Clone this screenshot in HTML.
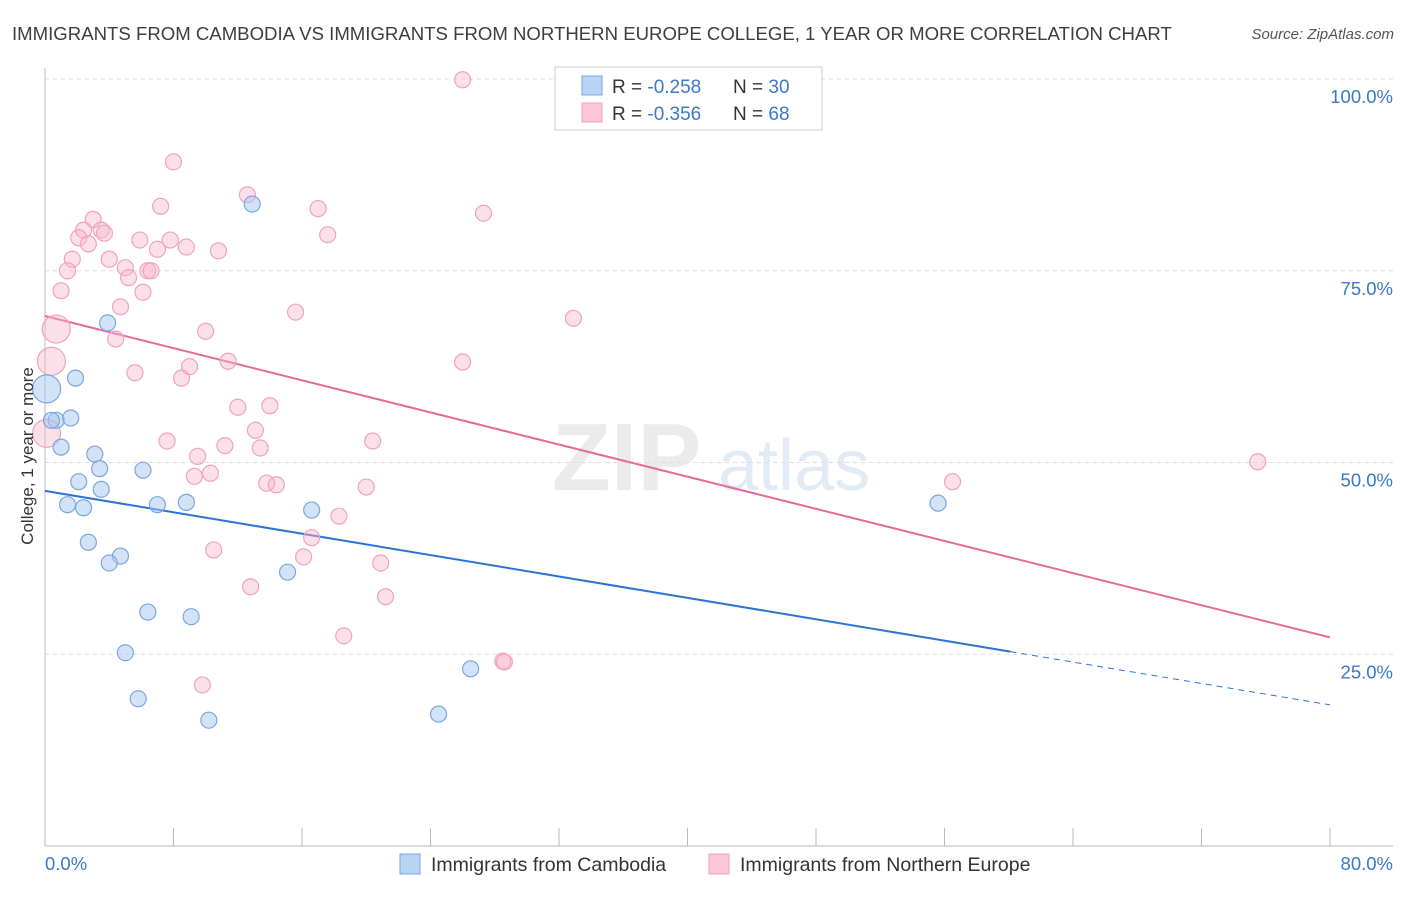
<!DOCTYPE html>
<html><head><meta charset="utf-8"><style>
body{margin:0;background:#fff;font-family:"Liberation Sans",sans-serif}
svg text{font-family:"Liberation Sans",sans-serif}
</style></head><body>
<svg id="chart" width="1406" height="892" xmlns="http://www.w3.org/2000/svg">
<text x="12" y="40" font-size="18.6" fill="#3e3e3e">IMMIGRANTS FROM CAMBODIA VS IMMIGRANTS FROM NORTHERN EUROPE COLLEGE, 1 YEAR OR MORE CORRELATION CHART</text>
<text x="1394" y="39" font-size="15" fill="#555" font-style="italic" text-anchor="end">Source: ZipAtlas.com</text>
<g opacity="0.5">
<text x="552" y="490" font-size="96" fill="#d8d8d8" font-family="Liberation Serif" font-weight="bold">ZIP</text>
<text x="718" y="490" font-size="72" fill="#c5d8ee">atlas</text>
</g>
<g id="grid"></g>
<g id="axes"></g>
<g id="lines"></g>
<g id="points"></g>
<text transform="translate(33,456) rotate(-90)" font-size="17" fill="#333" text-anchor="middle">College, 1 year or more</text>
<g>
<rect x="555" y="67" width="267" height="63" fill="#fff" stroke="#ccc"/>
<rect x="582" y="76" width="20" height="19" fill="#b8d4f5" stroke="#7aa7e0"/>
<text x="612" y="93" font-size="19" fill="#333">R = <tspan fill="#3a78c8">-0.258</tspan></text>
<text x="733" y="93" font-size="19" fill="#333">N = <tspan fill="#3a78c8">30</tspan></text>
<rect x="582" y="103" width="20" height="19" fill="#fcc8d8" stroke="#f0a0bb"/>
<text x="612" y="120" font-size="19" fill="#333">R = <tspan fill="#3a78c8">-0.356</tspan></text>
<text x="733" y="120" font-size="19" fill="#333">N = <tspan fill="#3a78c8">68</tspan></text>
</g>
<g>
<rect x="400" y="854" width="20" height="20" fill="#b8d4f5" stroke="#7aa7e0"/>
<text x="431" y="871" font-size="19.5" fill="#333">Immigrants from Cambodia</text>
<rect x="709" y="854" width="20" height="20" fill="#fcc8d8" stroke="#f0a0bb"/>
<text x="740" y="871" font-size="19.5" fill="#333">Immigrants from Northern Europe</text>
</g>
</svg>
<script>
const blueX=[0.1,0.7,0.4,1.6,1.9,1.0,3.9,12.9,3.1,3.4,2.1,3.5,1.4,2.4,6.1,7.0,8.8,2.7,4.7,4.0,16.6,15.1,6.4,9.1,5.0,5.8,10.2,24.5,26.5,55.6];
const blueY=[59.6,55.5,55.5,55.8,61.0,52.0,68.2,83.7,51.1,49.2,47.5,46.5,44.5,44.1,49.0,44.5,44.8,39.6,37.8,36.9,43.8,35.7,30.5,29.9,25.2,19.2,16.4,17.2,23.1,44.7];
const blueR=[14,8,8,8,8,8,8,8,8,8,8,8,8,8,8,8,8,8,8,8,8,8,8,8,8,8,8,8,8,8];
const pinkX=[26.0,8.0,12.6,7.2,17.0,27.3,3.0,2.4,3.5,3.7,2.1,5.9,7.8,17.6,2.7,7.0,8.8,10.8,1.7,4.0,1.4,5.0,6.4,6.6,5.2,1.0,6.1,4.7,15.6,32.9,0.7,10.0,4.4,0.4,11.4,26.0,9.0,5.6,8.5,12.0,14.0,0.1,13.1,7.6,11.2,20.4,13.4,9.5,75.5,9.3,10.3,13.8,14.4,56.5,20.0,18.3,16.6,10.5,16.1,20.9,12.8,21.2,18.6,28.5,28.6,9.8];
const pinkY=[99.9,89.2,84.9,83.4,83.1,82.5,81.7,80.3,80.3,79.9,79.3,79.0,79.0,79.7,78.5,77.8,78.1,77.6,76.5,76.5,75.0,75.4,75.0,75.0,74.1,72.4,72.2,70.3,69.6,68.8,67.4,67.1,66.1,63.2,63.2,63.1,62.5,61.7,61.0,57.2,57.4,53.8,54.2,52.8,52.2,52.8,51.9,50.8,50.1,48.2,48.6,47.3,47.1,47.5,46.8,43.0,40.2,38.6,37.7,36.9,33.8,32.5,27.4,24.1,24.0,21.0];
const pinkBig=[30,33,41];
const yTicks=[25,50,75,100];
const xTicks=[0,8,16,24,32,40,48,56,64,72,80];
const pinkTrend=[69.1,27.2];
const blueTrend=[46.3,18.4];
const blueSolidEnd=60.1;
const NS="http://www.w3.org/2000/svg";
const sx=v=>45+v*(1330-45)/80;
const sy=v=>846-v*(846-79)/100;
function mk(tag,attrs,parent){const e=document.createElementNS(NS,tag);for(const k in attrs)e.setAttribute(k,attrs[k]);parent.appendChild(e);return e;}
const grid=document.getElementById('grid'),axes=document.getElementById('axes'),lines=document.getElementById('lines'),pts=document.getElementById('points');
yTicks.forEach(t=>{
 const l=mk('line',{x1:45,x2:1393,y1:sy(t),y2:sy(t),stroke:'#ddd','stroke-dasharray':'4,4'},grid);
 
 
 const tx=mk('text',{x:1393,y:sy(t)+24,'font-size':18.5,fill:'#3a78c8','text-anchor':'end'},axes);
 tx.textContent=t.toFixed(1)+'%';
 
 
});
const ax=mk('line',{x1:45,x2:1393,y1:846,y2:846,stroke:'#bbb'},axes);


const ay=mk('line',{x1:45,x2:45,y1:68,y2:846,stroke:'#bbb'},axes);


xTicks.forEach(t=>{
 const l=mk('line',{x1:sx(t),x2:sx(t),y1:828,y2:846,stroke:'#bbb'},axes);
 
 
});
const xl0=mk('text',{x:45,y:870,'font-size':18.5,fill:'#3a78c8'},axes);xl0.textContent=xTicks[0].toFixed(1)+'%';


const xl1=mk('text',{x:1393,y:870,'font-size':18.5,fill:'#3a78c8','text-anchor':'end'},axes);xl1.textContent=xTicks[xTicks.length-1].toFixed(1)+'%';


function pt(x,y,r,fill,stroke,name){const c=mk('circle',{cx:sx(x),cy:sy(y),r:r,fill:fill,stroke:stroke,'stroke-width':1.2},pts);
 
 }
pinkX.forEach((x,i)=>pt(x,pinkY[i],pinkBig.includes(i)?14:8,'rgba(248,180,202,0.42)','#f0a3bc','point-northern-europe'));
blueX.forEach((x,i)=>pt(x,blueY[i],blueR[i],'rgba(168,200,240,0.5)','#7aa7e0','point-cambodia'));
const pl=mk('line',{x1:sx(0),y1:sy(pinkTrend[0]),x2:sx(80),y2:sy(pinkTrend[1]),stroke:'#e8699a','stroke-width':2},lines);


const by=x=>blueTrend[0]+(blueTrend[1]-blueTrend[0])*x/80;
const bl=mk('line',{x1:sx(0),y1:sy(blueTrend[0]),x2:sx(blueSolidEnd),y2:sy(by(blueSolidEnd)),stroke:'#2a74d6','stroke-width':2},lines);


const bd=mk('line',{x1:sx(blueSolidEnd),y1:sy(by(blueSolidEnd)),x2:sx(80),y2:sy(blueTrend[1]),stroke:'#2a74d6','stroke-width':1,'stroke-dasharray':'6,5'},lines);


</script>
</body></html>
